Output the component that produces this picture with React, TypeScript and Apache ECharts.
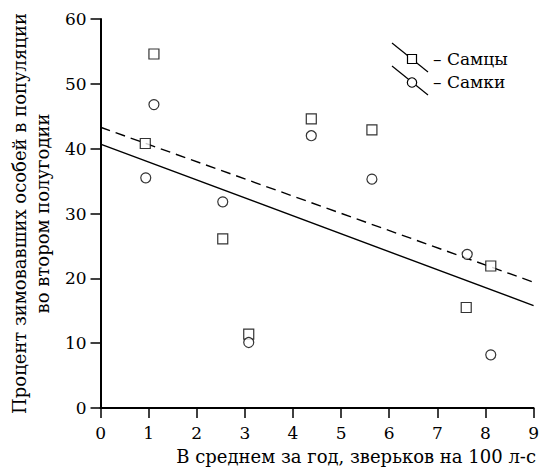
import React, { useEffect, useRef } from "react";
import * as echarts from "echarts";

const maleX = [0.93, 1.11, 2.54, 3.08, 4.38, 5.64, 7.6, 8.11];
const maleY = [40.8, 54.6, 26.1, 11.4, 44.6, 42.9, 15.5, 21.9];
const femaleX = [0.94, 1.11, 2.54, 3.08, 4.38, 5.64, 7.62, 8.11];
const femaleY = [35.5, 46.8, 31.8, 10.1, 42.0, 35.3, 23.7, 8.2];
const lineX = [0, 9];
const maleLineY = [43.3, 19.4];
const femaleLineY = [40.7, 15.8];
const legendLabels = ["– Самцы", "– Самки"];
const xTitle = "В среднем за год, зверьков на 100 л-с";
const yTitle = "Процент зимовавших особей в популяции\nво втором полугодии";

const FONT = "DejaVu Serif";

export default function App() {
  const ref = useRef<HTMLDivElement>(null);
  useEffect(() => {
    document.body.style.margin = "0";
    const chart = echarts.init(ref.current!, null, { renderer: "svg" });
    const pts = (xs: number[], ys: number[]) => xs.map((x, i) => [x, ys[i]]);
    chart.setOption({
      animation: false,
      backgroundColor: "#fff",
      textStyle: { fontFamily: FONT },
      grid: { left: 99, right: 6, top: 19, bottom: 63 },
      xAxis: {
        type: "value",
        min: 0,
        max: 9,
        interval: 1,
        splitLine: { show: false },
        axisLine: { show: true, onZero: false, lineStyle: { color: "#000", width: 2 } },
        axisTick: { show: true, length: 10, lineStyle: { color: "#000", width: 1.5 } },
        axisLabel: { color: "#000", fontFamily: FONT, fontSize: 17, margin: 16 },
      },
      yAxis: {
        type: "value",
        min: 0,
        max: 60,
        interval: 10,
        splitLine: { show: false },
        axisLine: { show: true, onZero: false, lineStyle: { color: "#000", width: 2 } },
        axisTick: { show: true, length: 10, lineStyle: { color: "#000", width: 1.5 } },
        axisLabel: { color: "#000", fontFamily: FONT, fontSize: 17, margin: 14 },
        name: yTitle,
        nameLocation: "middle",
        nameRotate: 90,
        nameGap: 38,
        nameTextStyle: { color: "#000", fontFamily: FONT, fontSize: 18, lineHeight: 23 },
      },
      graphic: [
        {
          type: "text",
          right: 6,
          top: 447,
          style: { text: xTitle, fill: "#000", fontFamily: FONT, fontSize: 18 },
        },
        { type: "line", shape: { x1: 392, y1: 43, x2: 428, y2: 72 }, style: { stroke: "#000", lineWidth: 1.2 } },
        { type: "rect", shape: { x: 407.5, y: 54.5, width: 9, height: 9 }, style: { fill: "#fff", stroke: "#000", lineWidth: 1.2 } },
        { type: "line", shape: { x1: 392, y1: 66, x2: 428, y2: 95 }, style: { stroke: "#000", lineWidth: 1.2 } },
        { type: "circle", shape: { cx: 412, cy: 82.5, r: 4.7 }, style: { fill: "#fff", stroke: "#000", lineWidth: 1.2 } },
        { type: "text", x: 433, y: 59, style: { text: legendLabels[0], fill: "#000", fontFamily: FONT, fontSize: 17, verticalAlign: "middle" } },
        { type: "text", x: 433, y: 82, style: { text: legendLabels[1], fill: "#000", fontFamily: FONT, fontSize: 17, verticalAlign: "middle" } },
      ],
      series: [
        {
          type: "line",
          data: pts(lineX, maleLineY),
          symbol: "none",
          lineStyle: { color: "#000", width: 1.4, type: [10, 6] },
          z: 1,
        },
        {
          type: "line",
          data: pts(lineX, femaleLineY),
          symbol: "none",
          lineStyle: { color: "#000", width: 1.4 },
          z: 1,
        },
        {
          type: "scatter",
          data: pts(maleX, maleY),
          symbol: "rect",
          symbolSize: 10,
          itemStyle: { color: "#fff", borderColor: "#000", borderWidth: 1.2 },
          z: 3,
        },
        {
          type: "scatter",
          data: pts(femaleX, femaleY),
          symbol: "circle",
          symbolSize: 10,
          itemStyle: { color: "#fff", borderColor: "#000", borderWidth: 1.2 },
          z: 4,
        },
      ],
    });
    return () => chart.dispose();
  }, []);
  return <div ref={ref} style={{ width: 542, height: 471 }} />;
}
